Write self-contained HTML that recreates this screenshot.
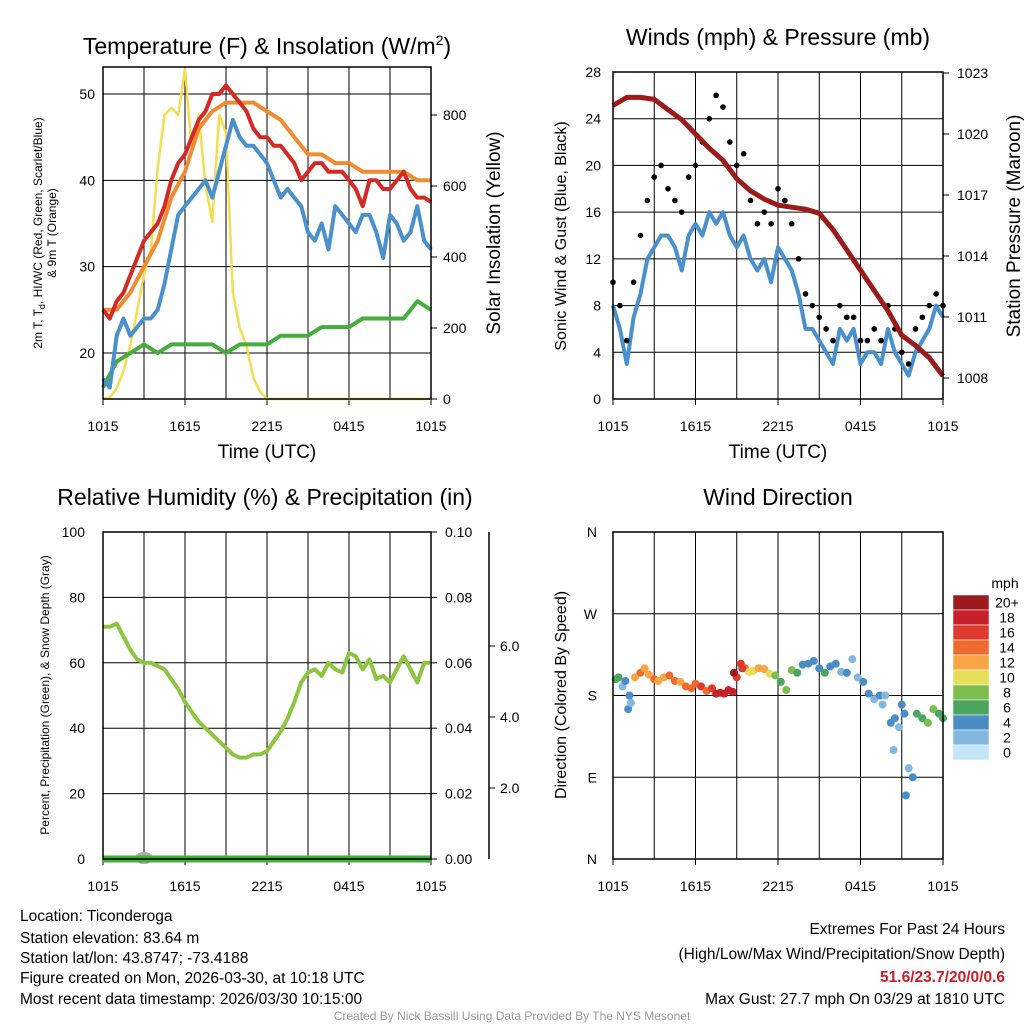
<!DOCTYPE html>
<html><head><meta charset="utf-8">
<style>
body{margin:0;background:#fff;}
svg{font-family:"Liberation Sans",sans-serif;}
</style></head>
<body>
<svg id="chart" width="1024" height="1024" viewBox="0 0 1024 1024" xmlns="http://www.w3.org/2000/svg">
<rect width="1024" height="1024" fill="#fff"/>
<g id="g"></g>
<text x="267" y="54" font-size="23" text-anchor="middle">Temperature (F) &amp; Insolation (W/m<tspan dy="-9" font-size="14">2</tspan><tspan dy="9">)</tspan></text>
<text x="778" y="45" font-size="23" text-anchor="middle">Winds (mph) &amp; Pressure (mb)</text>
<text x="265" y="505" font-size="23" text-anchor="middle">Relative Humidity (%) &amp; Precipitation (in)</text>
<text x="778" y="505" font-size="23" text-anchor="middle">Wind Direction</text>
<text x="267" y="458" font-size="19" text-anchor="middle">Time (UTC)</text>
<text x="778" y="458" font-size="19" text-anchor="middle">Time (UTC)</text>
<text transform="translate(42,233) rotate(-90)" font-size="12" text-anchor="middle">2m T, T<tspan dy="3" font-size="9">d</tspan><tspan dy="-3">, HI/WC (Red, Green, Scarlet/Blue)</tspan></text>
<text transform="translate(56,233) rotate(-90)" font-size="12" text-anchor="middle">&amp; 9m T (Orange)</text>
<text transform="translate(500,233) rotate(-90)" font-size="19" text-anchor="middle">Solar Insolation (Yellow)</text>
<text transform="translate(566,236) rotate(-90)" font-size="16" text-anchor="middle">Sonic Wind &amp; Gust (Blue, Black)</text>
<text transform="translate(1020,226) rotate(-90)" font-size="19" text-anchor="middle">Station Pressure (Maroon)</text>
<text transform="translate(49,695) rotate(-90)" font-size="12" text-anchor="middle">Percent, Precipitation (Green), &amp; Snow Depth (Gray)</text>
<text transform="translate(566,695) rotate(-90)" font-size="16" text-anchor="middle">Direction (Colored By Speed)</text>
<text x="1005" y="588" font-size="14" text-anchor="middle">mph</text>
<g font-size="15.5">
<text x="20" y="921">Location: Ticonderoga</text>
<text x="20" y="943">Station elevation: 83.64 m</text>
<text x="20" y="963">Station lat/lon: 43.8747; -73.4188</text>
<text x="20" y="983">Figure created on Mon, 2026-03-30, at 10:18 UTC</text>
<text x="20" y="1004">Most recent data timestamp: 2026/03/30 10:15:00</text>
</g>
<g font-size="15.5" text-anchor="end">
<text x="1005" y="934">Extremes For Past 24 Hours</text>
<text x="1005" y="959">(High/Low/Max Wind/Precipitation/Snow Depth)</text>
<text x="1005" y="982" fill="#c8202a" font-weight="bold">51.6/23.7/20/0/0.6</text>
<text x="1005" y="1004">Max Gust: 27.7 mph On 03/29 at 1810 UTC</text>
</g>
<text x="512" y="1020" font-size="12" fill="#999" text-anchor="middle">Created By Nick Bassill Using Data Provided By The NYS Mesonet</text>
</svg>
<script>
const xTickLabels=["1015","1615","2215","0415","1015"];
const tempRed=[25,24,26,27,29,31,33,34,35,37,40,42,43,45,47,48,50,50,51,50,49,48,46,45,45,44,44,43,42,40,41,42,42,41,41,41,40,39,37,40,40,39,39,40,41,39,38,38,37.5];
const tempOrange=[25,25,27,30,33,38,41,46,48,49,49,49,48,47,45,43,43,42,42,41,41,41,41,40,40];
const tempBlue=[17,16,22,24,22,23,24,24,25,28,32,36,37,38,39,40,38,41,44,47,45,44,44,43,42,40,38,39,38,37,34,33,35,32,37,36,35,34,36,36,34,31,36,35,33,34,37,33,32];
const tempGreen=[16,19,20,21,20,21,21,21,21,20,21,21,21,22,22,22,23,23,23,24,24,24,24,26,25];
const solar=[0,5,30,80,150,250,350,420,650,800,820,800,930,700,800,600,500,800,750,300,200,150,60,20,0,0,0,0,0,0,0,0,0,0,0,0,0,0,0,0,0,0,0,0,0,0,0,0,0];
const windSpeed=[8,6,3,7,9,12,13,14,14,13,11,14,15,14,16,15,16,14,13,14,12,11,12,10,13,12,11,9,6,6,5,4,3,6,5,6,3,4,4,3,6,4,3,2,4,5,6,8,7];
const windGust=[10,8,5,10,14,17,19,20,18,17,16,19,20,22,24,26,25,22,20,21,17,15,16,15,18,17,15,12,9,8,7,6,5,8,7,7,5,5,6,5,8,6,4,3,6,7,8,9,8];
const pressure=[1021.4,1021.8,1021.8,1021.7,1021.2,1020.7,1020,1019.3,1018.7,1017.8,1017.2,1016.8,1016.5,1016.4,1016.3,1016.1,1015.3,1014.3,1013.3,1012.3,1011.3,1010.1,1009.6,1009,1008.1];
const rh=[71,71,72,68,64,61,60,60,59,58,55,52,48,45,42,40,38,36,34,32,31,31,32,32,33,36,39,43,48,54,57,58,56,60,58,57,63,62,58,61,55,56,54,58,62,58,54,60,60];
const precip=[0,0,0,0,0,0,0,0,0,0,0,0,0,0,0,0,0,0,0,0,0,0,0,0,0];
const dirHours=[0.2,0.4,0.7,0.9,1.1,1.3,1.6,2.0,2.3,2.6,3.0,3.3,3.7,4.1,4.5,4.9,5.3,5.7,6.0,6.4,6.8,7.2,7.5,7.8,8.1,8.4,8.7,9.0,9.3,9.6,9.9,10.2,10.6,11.0,11.4,11.8,12.2,12.6,13.0,13.4,13.8,14.2,14.6,15.0,15.4,15.8,16.2,16.6,17.0,17.4,17.8,18.2,18.6,19.0,19.4,19.8,20.2,20.5,20.8,21.0,21.2,21.5,21.8,22.1,22.5,22.9,23.3,23.7,24.0,8.8,9.4,1.2,19.6,20.4,21.3];
const dirDeg=[198,200,190,196,165,172,200,205,210,203,198,196,200,202,196,195,190,188,193,190,185,188,182,183,182,186,184,200,215,210,206,207,210,209,204,202,195,186,208,205,214,215,218,210,205,212,215,206,205,220,200,195,182,176,180,180,150,155,145,170,160,100,90,160,155,150,165,160,155,205,210,180,170,120,70];
const dirSpeed=[6,7,3,5,4,3,12,14,12,13,14,12,13,14,15,13,14,14,15,16,14,17,18,19,18,19,18,17,16,15,11,10,12,12,10,8,7,8,8,7,5,4,4,5,6,4,5,3,4,2,3,4,4,2,4,3,4,4,3,5,4,3,4,6,7,8,8,6,7,20,17,5,3,2,4];
const cbLabels=["20+","18","16","14","12","10","8","6","4","2","0"];
const cbColors=["#9c1a1c","#c8202a","#e03a2e","#ef6a2e","#f8a543","#e6dd58","#7dbd4f","#4aa65e","#4a8dc5","#82b8e0","#c3e6f8"];

const NS="http://www.w3.org/2000/svg";
const G=document.getElementById('g');
function mk(tag,attrs,parent){const e=document.createElementNS(NS,tag);for(const k in attrs)e.setAttribute(k,attrs[k]);(parent||G).appendChild(e);return e;}
function lin(d0,d1,p0,p1){return v=>p0+(v-d0)*(p1-p0)/(d1-d0);}
function tx(x,y,s,size,anchor){const t=mk('text',{x:x,y:y,'font-size':size,'text-anchor':anchor||'middle'});t.textContent=s;return t;}
function series(arr,xs,ys,color,w,name){const n=arr.length;let d='';arr.forEach((v,i)=>{d+=(i?'L':'M')+xs(i*24/(n-1)).toFixed(1)+','+ys(v).toFixed(1);});const p=mk('path',{d:d,fill:'none',stroke:color,'stroke-width':w,'stroke-linejoin':'round'});

return p;}
function frame(x0,x1,y0,y1,name,hgrid){
  const xs=lin(0,24,x0,x1);
  for(let h=3;h<24;h+=3){const l=mk('line',{x1:xs(h),x2:xs(h),y1:y0,y2:y1,stroke:'#000','stroke-width':1});
  
  }
  hgrid.forEach(y=>{const l=mk('line',{x1:x0,x2:x1,y1:y,y2:y,stroke:'#000','stroke-width':1});
  
  });
  xTickLabels.forEach((s,i)=>{const t=tx(xs(i*6),y1+32,s,14);
  
  
  mk('line',{x1:xs(i*6),x2:xs(i*6),y1:y1,y2:y1+6,stroke:'#000'});});
  return xs;
}
function border(x0,x1,y0,y1,name){const r=mk('rect',{x:x0,y:y0,width:x1-x0,height:y1-y0,fill:'none',stroke:'#000','stroke-width':1.5});

}

// Panel 1
(function(){
  const x0=103,x1=431,y0=67,y1=399;
  const yl=lin(20,50,353,94), yr=lin(0,800,399,115);
  const grid=[20,30,40,50].map(yl);
  const xs=frame(x0,x1,y0,y1,'temp',grid);
  series(solar,xs,yr,'#f6dc50',2.5,'solar-line');
  series(tempGreen,xs,yl,'#44ad3c',4,'dewpoint-line');
  series(tempBlue,xs,yl,'#4a90cc',4,'windchill-line');
  series(tempOrange,xs,yl,'#f28a30',4,'temp9m-line');
  series(tempRed,xs,yl,'#d42a24',4,'temp2m-line');
  [20,30,40,50].forEach(v=>{const t=tx(x0-8,yl(v)+5,String(v),14,'end');
  
  });
  [0,200,400,600,800].forEach(v=>{const t=tx(x1+12,yr(v)+5,String(v),14,'start');
  
  mk('line',{x1:x1,x2:x1+6,y1:yr(v),y2:yr(v),stroke:'#000'});});
  border(x0,x1,y0,y1,'temp-plot-area');
})();

// Panel 2
(function(){
  const x0=613,x1=943,y0=72,y1=399;
  const yl=lin(0,28,399,72), yr=lin(1008,1023,378,73);
  const xs=frame(x0,x1,y0,y1,'wind',[4,8,12,16,20,24].map(yl));
  series(windSpeed,xs,yl,'#4a90cc',4,'wind-speed-line');
  windGust.forEach((v,i)=>{const c=mk('circle',{cx:xs(i*24/(windGust.length-1)),cy:yl(v),r:2.8,fill:'#000'});
  
  });
  series(pressure,xs,yr,'#9b1b1b',5,'pressure-line');
  [0,4,8,12,16,20,24,28].forEach(v=>{const t=tx(x0-12,yl(v)+5,String(v),14,'end');
  
  });
  [1008,1011,1014,1017,1020,1023].forEach(v=>{const t=tx(x1+14,yr(v)+5,String(v),14,'start');
  
  mk('line',{x1:x1,x2:x1+6,y1:yr(v),y2:yr(v),stroke:'#000'});});
  border(x0,x1,y0,y1,'wind-plot-area');
})();

// Panel 3
(function(){
  const x0=103,x1=431,y0=532,y1=859;
  const yl=lin(0,100,859,532), yp=lin(0,0.1,859,532), ys=lin(0,2,859,788);
  const xs=frame(x0,x1,y0,y1,'rh',[20,40,60,80].map(yl));
  series(rh,xs,yl,'#8cc63f',4,'rh-line');
  const gb=mk('ellipse',{cx:xs(3),cy:858,rx:9,ry:6,fill:'#aaa'});
  
  
  series(precip,xs,yp,'#44ad3c',7,'precip-line');
  [0,20,40,60,80,100].forEach(v=>{const t=tx(x0-18,yl(v)+5,String(v),14,'end');
  
  });
  [0,0.02,0.04,0.06,0.08,0.10].forEach(v=>{const t=tx(x1+14,yp(v)+5,v.toFixed(2),14,'start');
  
  mk('line',{x1:x1,x2:x1+6,y1:yp(v),y2:yp(v),stroke:'#000'});});
  mk('line',{x1:489,x2:489,y1:y0,y2:y1,stroke:'#000','stroke-width':1.5});
  [2,4,6].forEach(v=>{const t=tx(500,ys(v)+5,v.toFixed(1),14,'start');
  
  mk('line',{x1:489,x2:495,y1:ys(v),y2:ys(v),stroke:'#000'});});
  border(x0,x1,y0,y1,'rh-plot-area');
})();

// Panel 4
(function(){
  const x0=613,x1=943,y0=532,y1=859;
  const yd=lin(0,360,859,532);
  const xs=frame(x0,x1,y0,y1,'wdir',[90,180,270].map(yd));
  dirDeg.forEach((d,i)=>{const s=dirSpeed[i];const idx=Math.max(0,Math.min(10,10-Math.floor(s/2)));
  const c=mk('circle',{cx:xs(dirHours[i]),cy:yd(d),r:4,fill:cbColors[idx]});
  
  });
  ['N','E','S','W','N'].forEach((s,i)=>{const t=tx(x0-16,yd(i*90)+5,s,14,'end');
  
  });
  border(x0,x1,y0,y1,'wdir-plot-area');
  const cy0=595,ch=15;
  cbColors.forEach((c,i)=>{const r=mk('rect',{x:953,y:cy0+i*ch,width:36,height:ch,fill:c,stroke:'#fff','stroke-width':0.5});
  
  
  const t=tx(1007,cy0+i*ch+ch/2+5,cbLabels[i],14,'middle');
  
  });
})();
</script>
</body></html>
